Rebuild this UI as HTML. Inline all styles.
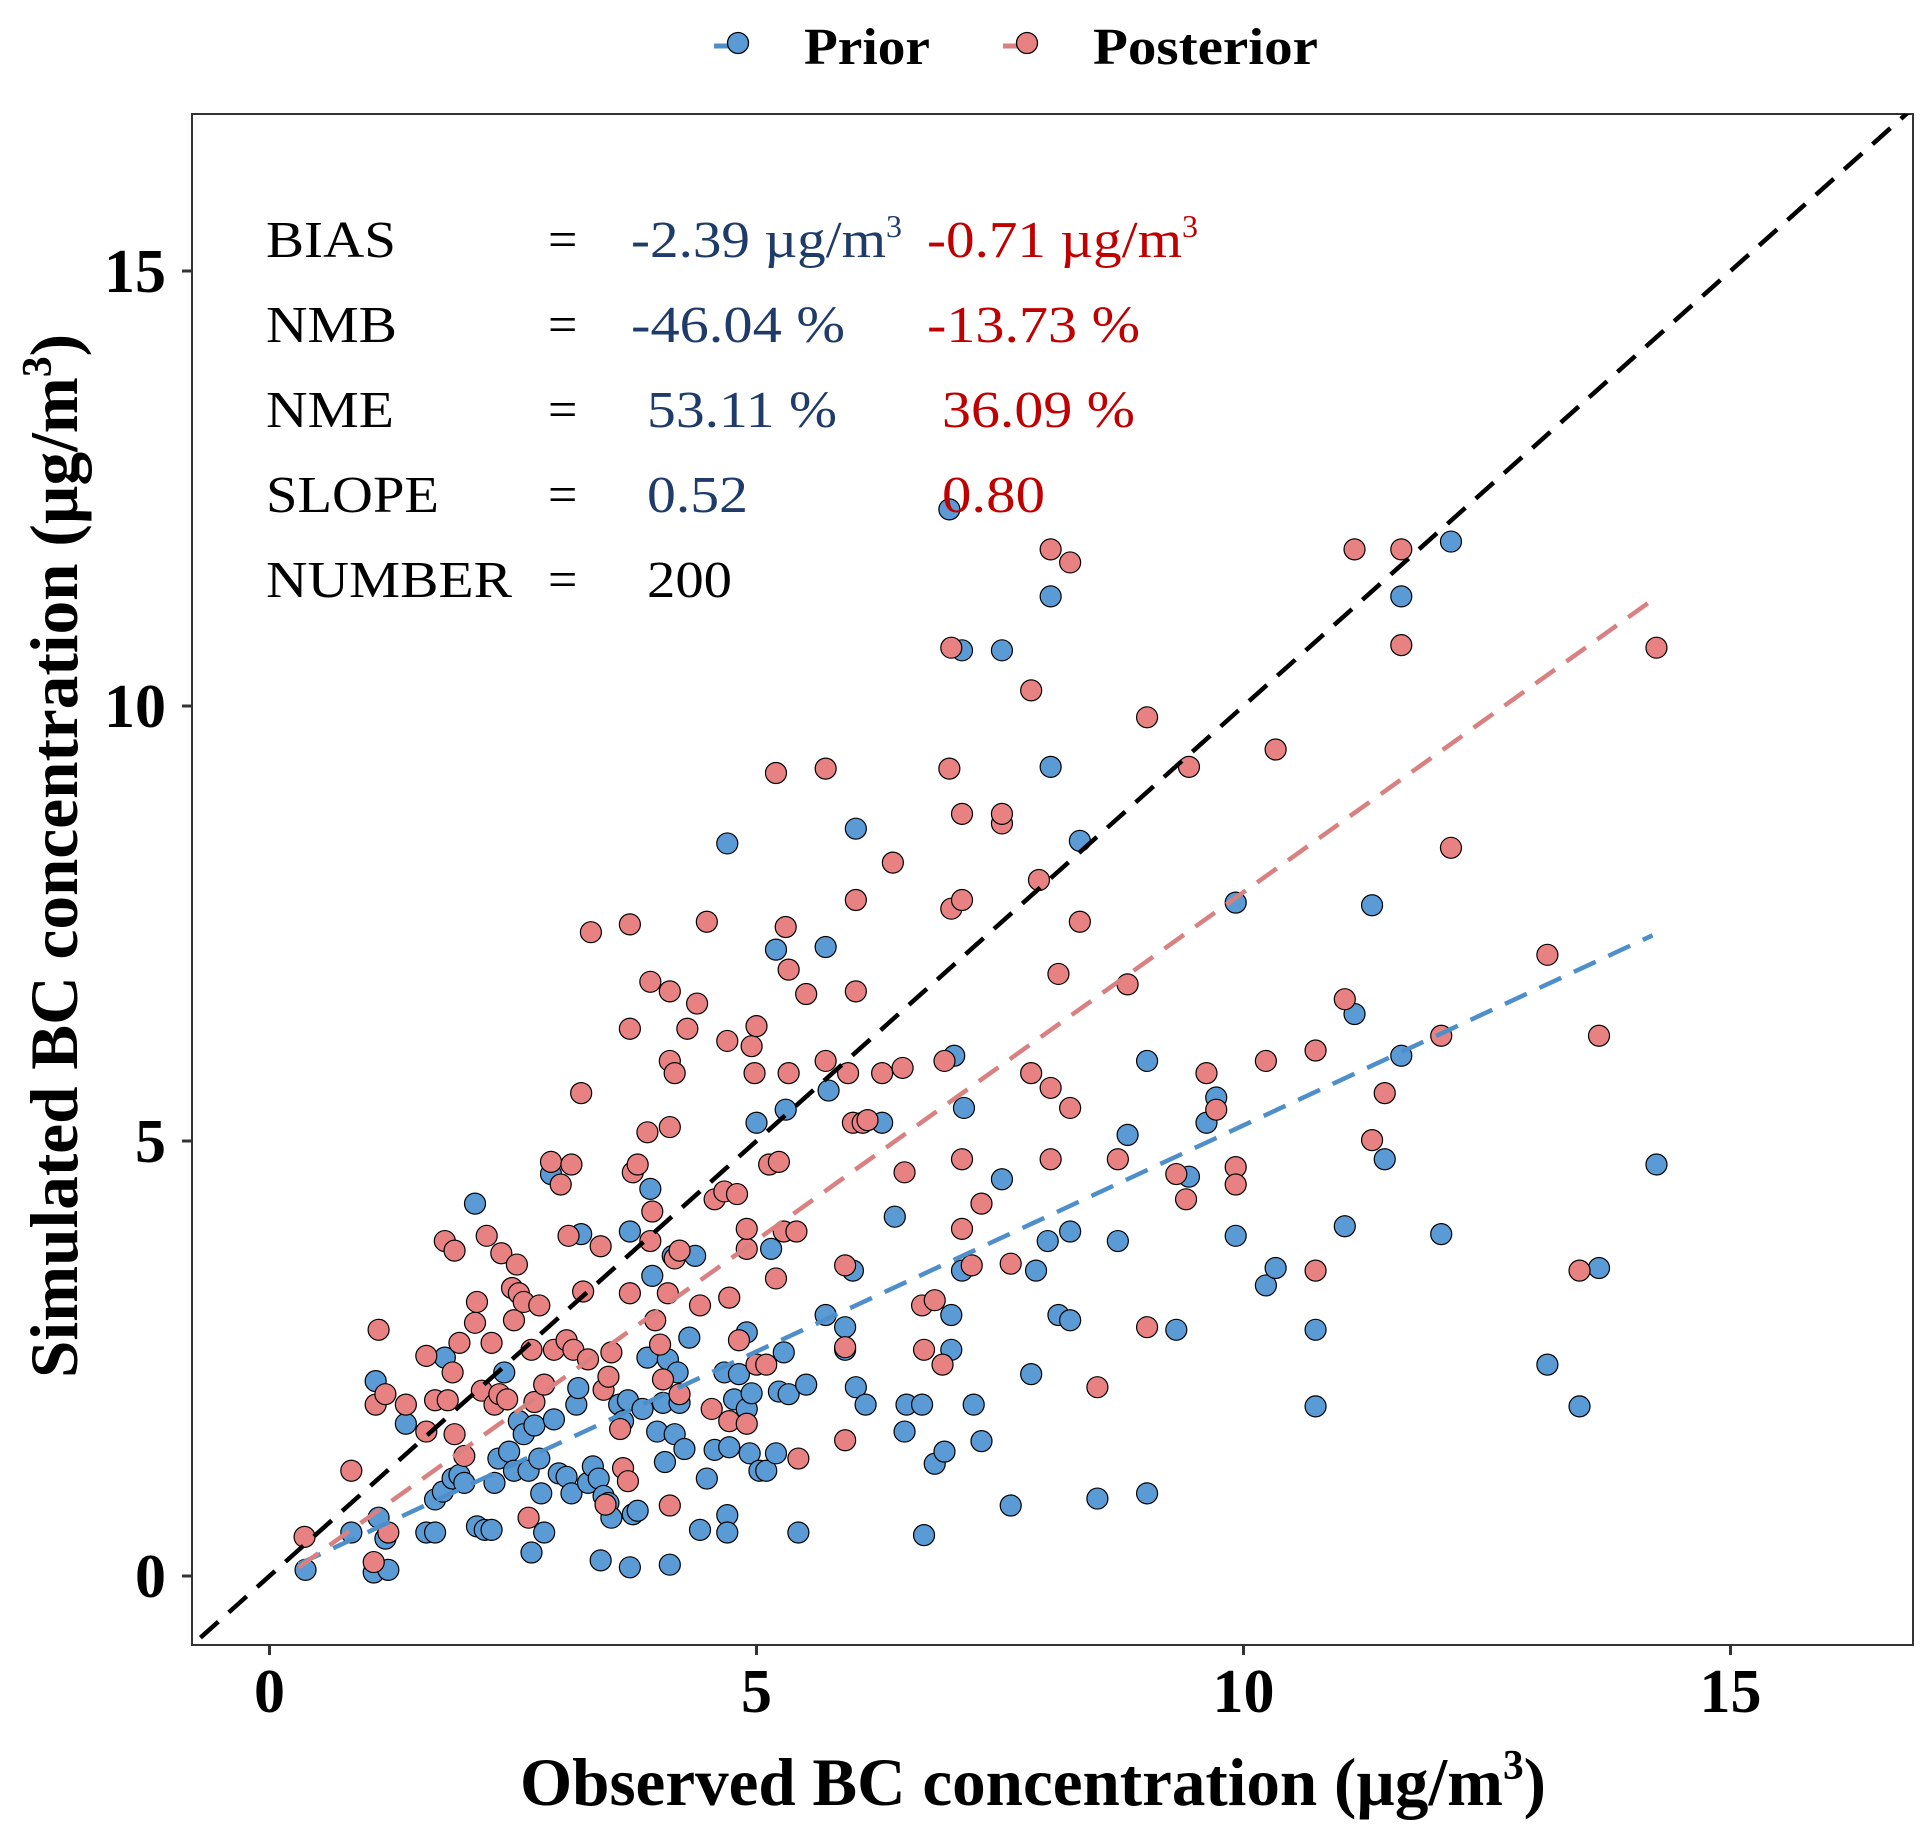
<!DOCTYPE html>
<html><head><meta charset="utf-8"><style>
html,body{margin:0;padding:0;background:#fff}
svg{display:block;font-family:"Liberation Serif",serif}
</style></head><body>
<svg id="chart" width="1929" height="1829" viewBox="0 0 1929 1829" xmlns="http://www.w3.org/2000/svg">
<g>
 <g>
  <line x1="714" y1="46" x2="734" y2="46" stroke="#4f8fc9" stroke-width="5"/>
  <circle cx="738" cy="43" r="10.5" fill="#5b9bd5" stroke="#000" stroke-width="1.3"/>
  <text x="804" y="64" font-size="52" font-weight="bold" textLength="126" lengthAdjust="spacingAndGlyphs">Prior</text>
 </g>
 <g>
  <line x1="1003" y1="46" x2="1023" y2="46" stroke="#d98080" stroke-width="5"/>
  <circle cx="1027" cy="43" r="10.5" fill="#e88282" stroke="#000" stroke-width="1.3"/>
  <text x="1093" y="64" font-size="52" font-weight="bold" textLength="225" lengthAdjust="spacingAndGlyphs">Posterior</text>
 </g>
</g>
<defs><clipPath id="clip"><rect x="192" y="114" width="1721" height="1531"/></clipPath></defs>
<rect x="192" y="114" width="1721" height="1531" fill="#fff" stroke="#333" stroke-width="2"/>
<g id="ticks"></g>
<g id="marks" clip-path="url(#clip)"></g>
<g font-size="52">
 <text x="266" y="257" textLength="130" lengthAdjust="spacingAndGlyphs">BIAS</text>
 <text x="266" y="342" textLength="131" lengthAdjust="spacingAndGlyphs">NMB</text>
 <text x="266" y="427" textLength="128" lengthAdjust="spacingAndGlyphs">NME</text>
 <text x="266" y="512" textLength="173" lengthAdjust="spacingAndGlyphs">SLOPE</text>
 <text x="266" y="597" textLength="246" lengthAdjust="spacingAndGlyphs">NUMBER</text>
 <text x="548" y="257">=</text><text x="548" y="342">=</text><text x="548" y="427">=</text><text x="548" y="512">=</text><text x="548" y="597">=</text>
 <g fill="#1f3b6a">
  <text x="631" y="257"><tspan textLength="255" lengthAdjust="spacingAndGlyphs">-2.39 µg/m</tspan><tspan font-size="32" dy="-20">3</tspan></text>
  <text x="631" y="342" textLength="214" lengthAdjust="spacingAndGlyphs">-46.04 %</text>
  <text x="647" y="427" textLength="190" lengthAdjust="spacingAndGlyphs">53.11 %</text>
  <text x="647" y="512" textLength="101" lengthAdjust="spacingAndGlyphs">0.52</text>
 </g>
 <text x="647" y="597" textLength="85" lengthAdjust="spacingAndGlyphs">200</text>
 <g fill="#c00000">
  <text x="927" y="257"><tspan textLength="255" lengthAdjust="spacingAndGlyphs">-0.71 µg/m</tspan><tspan font-size="32" dy="-20">3</tspan></text>
  <text x="927" y="342" textLength="213" lengthAdjust="spacingAndGlyphs">-13.73 %</text>
  <text x="942" y="427" textLength="193" lengthAdjust="spacingAndGlyphs">36.09 %</text>
  <text x="942" y="512" textLength="103" lengthAdjust="spacingAndGlyphs">0.80</text>
 </g>
</g>
<text x="520" y="1805" font-size="68" font-weight="bold" textLength="1026" lengthAdjust="spacingAndGlyphs">Observed BC concentration (µg/m<tspan font-size="42" dy="-26">3</tspan><tspan dy="26">)</tspan></text>
<text transform="translate(77,1378) rotate(-90)" font-size="68" font-weight="bold" textLength="1044" lengthAdjust="spacingAndGlyphs">Simulated BC concentration (µg/m<tspan font-size="42" dy="-26">3</tspan><tspan dy="26">)</tspan></text>
</svg>
<script>
const xTicks=[0,5,10,15];
const yTicks=[0,5,10,15];
const priorX=[0.37,0.84,1.07,1.22,1.12,1.19,1.09,1.40,1.61,1.70,1.70,1.78,1.80,1.88,1.95,2.0,2.11,2.13,2.21,2.28,2.31,2.35,2.41,2.46,2.51,2.56,2.61,2.66,2.69,2.72,2.77,2.82,2.79,2.89,2.92,2.97,3.05,3.10,3.15,3.17,3.20,3.27,3.32,3.38,3.40,3.43,3.48,3.51,3.59,3.63,3.68,3.70,3.73,3.78,3.70,3.83,3.88,3.91,3.93,3.98,4.04,4.06,4.09,4.11,4.14,4.16,4.19,4.21,4.26,4.31,4.37,4.42,4.49,4.57,4.67,4.70,4.70,4.70,4.72,4.77,4.82,4.90,4.90,4.93,4.95,5.0,5.03,5.10,5.15,5.20,5.20,5.23,5.28,5.30,5.33,5.43,5.51,5.71,5.71,5.74,5.91,5.91,5.99,6.02,6.02,6.12,6.29,6.42,6.52,6.54,6.70,6.72,6.83,6.93,6.98,7.0,7.0,7.03,7.11,7.11,7.13,7.23,7.31,7.52,7.52,7.61,7.82,7.87,7.99,8.02,8.02,8.10,8.22,8.22,8.32,8.50,8.71,8.81,9.01,9.01,9.31,9.44,9.62,9.72,9.92,9.92,10.23,10.33,10.74,10.74,11.04,11.14,11.32,11.45,11.62,11.62,12.13,12.03,13.12,13.45,13.65,14.24];
const priorY=[0.07,0.5,0.04,0.07,0.67,0.43,2.24,1.75,0.5,0.5,0.88,0.97,2.51,1.12,1.16,1.07,4.28,0.57,0.53,0.53,1.07,1.35,2.34,1.43,1.21,1.78,1.63,1.21,0.27,1.73,1.35,0.5,0.95,4.62,1.80,1.18,1.14,0.95,1.97,2.16,3.93,1.07,1.26,1.12,0.18,0.92,0.84,0.67,1.97,1.78,2.02,0.1,0.71,0.75,3.96,1.92,2.51,4.45,3.45,1.66,1.99,1.31,2.49,0.13,3.68,1.63,2.34,1.99,1.46,2.74,3.68,0.53,1.12,1.45,2.34,0.7,0.5,8.42,1.48,2.03,2.32,2.8,1.92,1.41,2.1,5.21,1.21,1.21,3.76,1.41,7.2,2.12,2.57,5.36,2.09,0.5,2.2,3.0,7.23,5.58,2.86,2.6,3.51,8.59,2.17,1.97,5.21,4.13,1.66,1.97,1.97,0.47,1.29,1.43,12.26,2.6,3.0,5.98,10.64,3.51,5.38,1.97,1.55,10.64,4.56,0.81,2.32,3.51,3.85,11.26,9.3,3.0,3.96,2.94,8.45,0.89,3.85,5.07,5.92,0.95,2.83,4.59,5.21,5.5,7.74,3.91,3.34,3.54,1.95,2.83,4.02,6.46,7.71,4.79,11.26,5.98,11.89,3.93,2.43,1.95,3.54,4.73];
const postX=[0.36,0.84,1.12,1.09,1.19,1.22,1.07,1.40,1.61,1.61,1.70,1.80,1.83,1.88,1.90,1.90,1.95,2.0,2.11,2.13,2.18,2.23,2.28,2.31,2.36,2.38,2.44,2.49,2.51,2.54,2.56,2.61,2.66,2.69,2.72,2.77,2.82,2.89,2.92,2.99,3.05,3.07,3.10,3.12,3.20,3.22,3.27,3.30,3.40,3.43,3.45,3.48,3.51,3.60,3.63,3.68,3.70,3.70,3.70,3.73,3.78,3.88,3.91,3.91,3.93,3.96,4.01,4.04,4.09,4.11,4.11,4.11,4.11,4.16,4.16,4.21,4.21,4.29,4.39,4.42,4.49,4.54,4.57,4.67,4.70,4.72,4.72,4.80,4.82,4.90,4.90,4.90,4.95,4.98,5.0,5.0,5.10,5.13,5.20,5.20,5.23,5.28,5.30,5.33,5.33,5.41,5.43,5.51,5.71,5.71,5.91,5.91,5.91,5.94,5.99,6.02,6.02,6.09,6.14,6.29,6.40,6.50,6.52,6.70,6.72,6.83,6.91,6.93,6.98,7.0,7.0,7.11,7.11,7.11,7.11,7.21,7.31,7.52,7.52,7.61,7.82,7.82,7.90,8.02,8.02,8.02,8.10,8.22,8.22,8.32,8.50,8.71,8.81,9.01,9.01,9.31,9.41,9.44,9.62,9.72,9.92,9.92,10.23,10.33,10.74,10.74,11.04,11.14,11.32,11.45,11.62,11.62,12.03,12.13,13.12,13.45,13.65,14.24];
const postY=[0.45,1.21,2.83,1.97,2.09,0.5,0.16,1.97,2.53,1.66,2.02,3.85,2.02,2.34,3.74,1.63,2.68,1.38,2.91,3.15,2.13,3.91,2.68,1.97,2.09,3.71,2.03,3.31,2.94,3.58,3.25,3.15,0.67,2.6,2.0,3.11,2.2,4.76,2.6,4.5,2.71,3.91,4.73,2.6,5.55,3.27,2.49,7.4,3.79,2.14,0.82,2.29,2.57,1.69,1.24,1.09,3.25,6.29,7.49,4.64,4.73,5.1,6.83,3.85,4.19,2.94,2.66,2.26,3.25,5.16,5.92,6.72,0.81,5.78,3.65,3.74,2.09,6.29,6.58,3.11,7.52,1.92,4.33,4.42,6.15,3.2,1.78,4.39,2.71,3.76,3.99,1.75,6.09,5.78,6.32,2.43,2.43,4.73,9.23,3.42,4.76,3.96,7.46,5.78,6.97,3.96,1.35,6.69,9.28,5.92,3.57,2.63,1.56,5.78,5.21,7.77,6.72,5.21,5.24,5.78,8.2,5.84,4.64,3.11,2.6,3.17,2.43,5.92,9.28,10.67,7.67,8.76,7.77,4.79,3.99,3.57,4.28,8.65,8.76,3.59,10.18,5.78,8.0,11.8,5.61,4.79,6.92,11.65,5.38,7.52,2.17,4.79,6.8,2.86,9.87,4.62,4.33,9.3,5.78,5.36,4.7,4.5,5.92,9.5,3.51,6.04,6.63,11.8,5.01,5.55,11.8,10.7,6.21,8.37,7.14,3.51,6.21,10.67];
const fitSlope=[0.52,0.80];
const fitIntercept=[-0.02,-0.14];
const fitRange=[0.3,14.2];

const X=v=>269.5+v*97.4;
const Y=v=>1576-v*87.0;
const NS="http://www.w3.org/2000/svg";
function mk(tag,attrs,parent){const e=document.createElementNS(NS,tag);for(const k in attrs)e.setAttribute(k,attrs[k]);parent.appendChild(e);return e;}
const ticks=document.getElementById('ticks');
xTicks.forEach(t=>{
 const l=mk('line',{x1:X(t),x2:X(t),y1:1645,y2:1655,stroke:'#333','stroke-width':3},ticks);
 
 
 const tx=mk('text',{x:X(t),y:1712,'text-anchor':'middle','font-size':62,'font-weight':'bold'},ticks);
 tx.textContent=t;
 
 
});
yTicks.forEach(t=>{
 const l=mk('line',{x1:182,x2:192,y1:Y(t),y2:Y(t),stroke:'#333','stroke-width':3},ticks);
 
 
 const tx=mk('text',{x:166,y:Y(t)+21,'text-anchor':'end','font-size':62,'font-weight':'bold'},ticks);
 tx.textContent=t;
 
 
});
const marks=document.getElementById('marks');
priorX.forEach((v,i)=>{
 const c=mk('circle',{cx:X(v),cy:Y(priorY[i]),r:10.5,fill:'#5b9bd5',stroke:'#000','stroke-width':1.2},marks);
 
 
});
postX.forEach((v,i)=>{
 const c=mk('circle',{cx:X(v),cy:Y(postY[i]),r:10.5,fill:'#e88282',stroke:'#000','stroke-width':1.2},marks);
 
 
});
const one=mk('line',{x1:X(-1),y1:Y(-1),x2:X(18),y2:Y(18),stroke:'#000','stroke-width':4.5,'stroke-dasharray':'24 14'},marks);


const fitColors=['#4f8fc9','#d98080'];
const fitNames=['prior-fit-line','posterior-fit-line'];
fitSlope.forEach((s,i)=>{
 const f=mk('line',{x1:X(fitRange[0]),y1:Y(fitIntercept[i]+s*fitRange[0]),x2:X(fitRange[1]),y2:Y(fitIntercept[i]+s*fitRange[1]),stroke:fitColors[i],'stroke-width':4.5,'stroke-dasharray':'24 14'},marks);
 
 
});
</script>
</body></html>
